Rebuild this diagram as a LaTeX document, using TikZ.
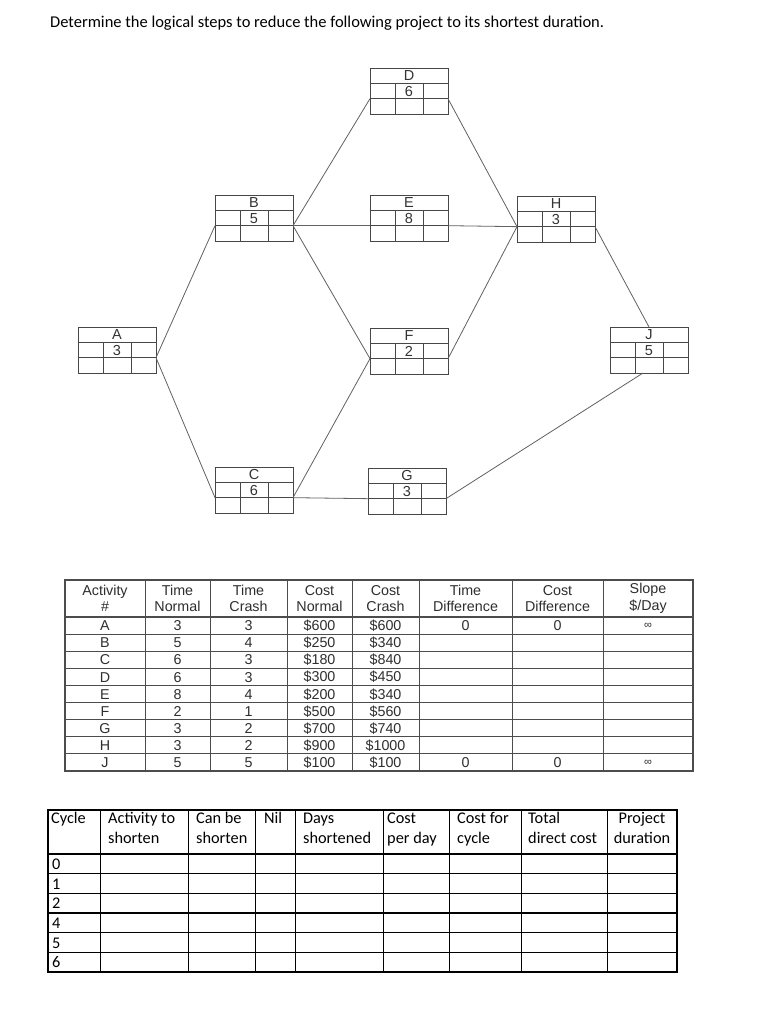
\documentclass[tikz,border=0pt]{standalone}
\usepackage{fontspec}
\setmainfont{Carlito}
\newfontfamily\helv{Liberation Sans}
\usetikzlibrary{calc}
\tikzset{
  boxline/.style={draw=black!72, line width=0.9pt},
  conn/.style={draw=black!62, line width=0.8pt},
  actbox/.style={boxline, minimum width=78pt, minimum height=46pt, inner sep=0pt, outer sep=0pt},
  boxtxt/.style={font=\helv\fontsize{14.5}{15}\selectfont, text=black!80, inner sep=0pt},
  tline/.style={draw=black!70, line width=0.9pt},
  ttxt/.style={font=\helv\fontsize{14.3}{16.5}\selectfont, text=black!82, inner sep=0pt, align=center},
  lline/.style={draw=black, line width=0.9pt},
  hline/.style={draw=black, line width=1.5pt},
  ltxt/.style={font=\fontsize{16.3}{18}\selectfont, anchor=base west, inner sep=0pt},
}
\newcommand\actbox[5]{%
  \node[actbox] (#1) at (#2+39,#3+23) {};
  \draw[boxline] (#2,#3+15.33) -- ++(78,0) (#2,#3+30.67) -- ++(78,0)
    (#2+25,#3+15.33) -- ++(0,30.67) (#2+53,#3+15.33) -- ++(0,30.67);
  \node[boxtxt] (#1-name) at (#2+39,#3+8) {#4};
  \node[boxtxt] (#1-dur) at (#2+39,#3+23.2) {#5};
  \coordinate (#1-in) at (#2,#3+30.67);
  \coordinate (#1-out) at (#2+78,#3+30.67);
}
\begin{document}
\begin{tikzpicture}[x=1pt,y=-1pt]
\useasboundingbox[fill=white] (0,0) rectangle (771,1024);

% title
\node[anchor=base west, inner sep=0pt, font=\fontsize{16.5}{18}\selectfont] (title) at (50,27.5)
  {Determine the logical steps to reduce the following project to its shortest duration.};

% network boxes
\actbox{A}{78}{327}{A}{3}
\actbox{B}{215}{195}{B}{5}
\actbox{C}{215}{467}{C}{6}
\actbox{D}{370}{68}{D}{6}
\actbox{E}{370}{195}{E}{8}
\actbox{F}{370}{328}{F}{2}
\actbox{G}{368}{468}{G}{3}
\actbox{H}{517}{196}{H}{3}
\actbox{J}{610}{327}{J}{5}

% connectors
\draw[conn] (A-out) -- (B-in);
\draw[conn] (A-out) -- (C-in);
\draw[conn] (B-out) -- (D-in);
\draw[conn] (B-out) -- (E-in);
\draw[conn] (B-out) -- (F-in);
\draw[conn] (C-out) -- (F-in);
\draw[conn] (C-out) -- (G-in);
\draw[conn] (D-out) -- (H-in);
\draw[conn] (E-out) -- (H-in);
\draw[conn] (F-out) -- (H-in);
\draw[conn] (H-out) -- (J.north);
\draw[conn] (G-out) -- ([xshift=-6pt]J.south);

% upper table
\foreach \i in {1,...,8} \draw[tline] (65,617+\i*17.1) -- (693,617+\i*17.1);
\foreach \x in {145,210,287,352,419,512,603} \draw[tline] (\x,580) -- (\x,771);
\draw[tline, line width=1.8pt] (65,617) -- (693,617);
\draw[tline, line width=1.4pt] (65,580) rectangle (693,771);

\foreach \cx/\t [count=\k] in {105/{Activity\\\#},177.5/{Time\\Normal},248.5/{Time\\Crash},
  319.5/{Cost\\Normal},385.5/{Cost\\Crash},465.5/{Time\\Difference},557.5/{Cost\\Difference},648/{Slope\\\$/Day}}
  \node[ttxt] (th\k) at (\cx,598.5) {\t};

\foreach \r/\a/\b/\c/\d [count=\i] in {A/3/3/\$600/\$600,B/5/4/\$250/\$340,C/6/3/\$180/\$840,
  D/6/3/\$300/\$450,E/8/4/\$200/\$340,F/2/1/\$500/\$560,G/3/2/\$700/\$740,H/3/2/\$900/\$1000,J/5/5/\$100/\$100}
{
  \node[ttxt] (ta\i) at (105,617+\i*17.1-8.3) {\r};
  \node[ttxt] (tb\i) at (177.5,617+\i*17.1-8.3) {\a};
  \node[ttxt] (tc\i) at (248.5,617+\i*17.1-8.3) {\b};
  \node[ttxt] (td\i) at (319.5,617+\i*17.1-8.3) {\c};
  \node[ttxt] (te\i) at (385.5,617+\i*17.1-8.3) {\d};
}
\foreach \i in {1,9}
{
  \node[ttxt] (tf\i) at (465.5,617+\i*17.1-8.3) {0};
  \node[ttxt] (tg\i) at (557.5,617+\i*17.1-8.3) {0};
  \node[ttxt, font=\helv\fontsize{11}{12}\selectfont] (tz\i) at (648,617+\i*17.1-8.3) {∞};
}

% lower table
\foreach \y in {873.7,893.3,913,932.7,952.3} \draw[hline] (48,\y) -- (677,\y);
\draw[hline] (48,854) -- (677,854);
\foreach \x in {100,188,255,295,383,449,521,607} \draw[lline] (\x,810) -- (\x,972);
\draw[lline, line width=1.3pt] (48,810) rectangle (677,972);

\node[ltxt] (c1a) at (51,823) {Cycle};
\node[ltxt] (c2a) at (108,823) {Activity to};
\node[ltxt] (c2b) at (108,843) {shorten};
\node[ltxt] (c3a) at (196,823) {Can be};
\node[ltxt] (c3b) at (196,843) {shorten};
\node[ltxt] (c4a) at (264,823) {Nil};
\node[ltxt] (c5a) at (303,823) {Days};
\node[ltxt] (c5b) at (303,843) {shortened};
\node[ltxt] (c6a) at (387,823) {Cost};
\node[ltxt] (c6b) at (387,843) {per day};
\node[ltxt] (c7a) at (457,823) {Cost for};
\node[ltxt] (c7b) at (457,843) {cycle};
\node[ltxt] (c8a) at (528,823) {Total};
\node[ltxt] (c8b) at (528,843) {direct cost};
\node[ltxt, anchor=base] (c9a) at (642,823) {Project};
\node[ltxt, anchor=base] (c9b) at (642,843) {duration};

\foreach \v/\y [count=\k] in {0/869.5,1/889,2/908.7,4/928.3,5/948,6/967.7}
  \node[ltxt] (cy\k) at (52,\y) {\v};
\end{tikzpicture}
\end{document}
